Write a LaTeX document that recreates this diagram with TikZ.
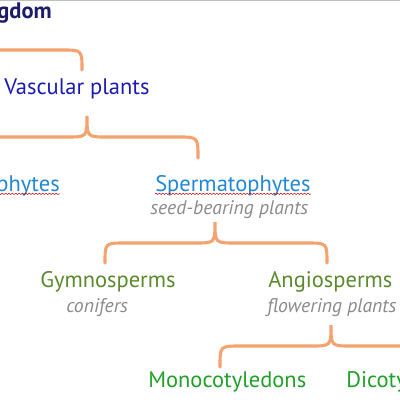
\documentclass[tikz,border=0pt]{standalone}
\usepackage{fontspec}
\setmainfont{PT Sans}
\usetikzlibrary{calc,decorations.pathmorphing}

\definecolor{bracecol}{HTML}{F4A26E}
\definecolor{kingcol}{HTML}{1C1C6A}
\definecolor{vasccol}{HTML}{1A1AB4}
\definecolor{phytcol}{HTML}{2288D6}
\definecolor{spermcol}{HTML}{5A8A2C}
\definecolor{cotylcol}{HTML}{20A028}
\definecolor{commoncol}{HTML}{8A8A8A}

\tikzset{
  brace/.style={draw=bracecol,line width=2.2pt,line cap=round},
  taxon/.style={inner sep=0pt,anchor=base west,font=\fontsize{16}{19}\selectfont},
  common/.style={inner sep=0pt,anchor=base west,text=commoncol,font=\fontsize{14}{17}\selectfont\itshape},
  squiggle/.style={draw=red!75!black,line width=0.35pt,decorate,
    decoration={snake,amplitude=0.5pt,segment length=2.4pt}}
}

% #1 tip, #2 left end, #3 right end
\newcommand{\fork}[3]{%
  \draw[brace] (#2) .. controls ($(#2|-#1)+(0,21)$) .. ($(#2|-#1)+(20,21)$)
    -- ($(#1)+(-20,21)$) .. controls ($(#1)+(0,21)$) .. (#1)
    .. controls ($(#1)+(0,21)$) .. ($(#1)+(20,21)$)
    -- ($(#3|-#1)+(-20,21)$) .. controls ($(#3|-#1)+(0,21)$) .. (#3);}

\begin{document}
\begin{tikzpicture}[x=0.025cm,y=-0.025cm]
    \useasboundingbox (0,0) rectangle (400,400);
    \clip (0,0) rectangle (400,400);
    \draw[gray!50,line width=0.8pt] (0,0.6) -- (400,0.6);

    % taxa
    \node[taxon,anchor=base east,text=kingcol,font=\fontsize{16}{19}\selectfont\bfseries] (kingdom) at (52,19) {Kingdom};
    \node[taxon,text=vasccol] (vascular) at (4,95) {Vascular plants};
    \node[taxon,anchor=base east,text=phytcol] (pterido) at (60,191) {Pteridophytes};
    \node[taxon,text=phytcol] (sperm) at (155,191) {Spermatophytes};
    \node[common] (seed) at (150,214) {seed-bearing plants};
    \node[taxon,text=spermcol] (gymno) at (40,287) {Gymnosperms};
    \node[common] (conif) at (66,312) {conifers};
    \node[taxon,text=spermcol] (angio) at (268,287) {Angiosperms};
    \node[common] (flower) at (267,312) {flowering plants};
    \node[taxon,text=cotylcol] (mono) at (148,387) {Monocotyledons};
    \node[taxon,text=cotylcol] (dicot) at (346,387) {Dicotyledons};

    % spell-check marks
    \draw[squiggle] ([yshift=-2pt]pterido.base west) -- ([yshift=-2pt]pterido.base east);
    \draw[squiggle] ([yshift=-2pt]sperm.base west) -- ([yshift=-2pt]sperm.base east);

    % brace points
    \coordinate (king-tip) at (-40,29);
    \coordinate (king-l) at (-150,70);
    \coordinate (king-r) at (82,70);
    \coordinate (vasc-tip) at (87,116);
    \coordinate (vasc-l) at (-30,158);
    \coordinate (vasc-r) at (198,158);
    \coordinate (sperm-tip) at (215,222);
    \coordinate (sperm-l) at (105,263);
    \coordinate (sperm-r) at (327,263);
    \coordinate (angio-tip) at (331,325);
    \coordinate (angio-l) at (220,367);
    \coordinate (angio-r) at (450,367);

    \fork{king-tip}{king-l}{king-r}
    \fork{vasc-tip}{vasc-l}{vasc-r}
    \fork{sperm-tip}{sperm-l}{sperm-r}
    \fork{angio-tip}{angio-l}{angio-r}
\end{tikzpicture}
\end{document}
